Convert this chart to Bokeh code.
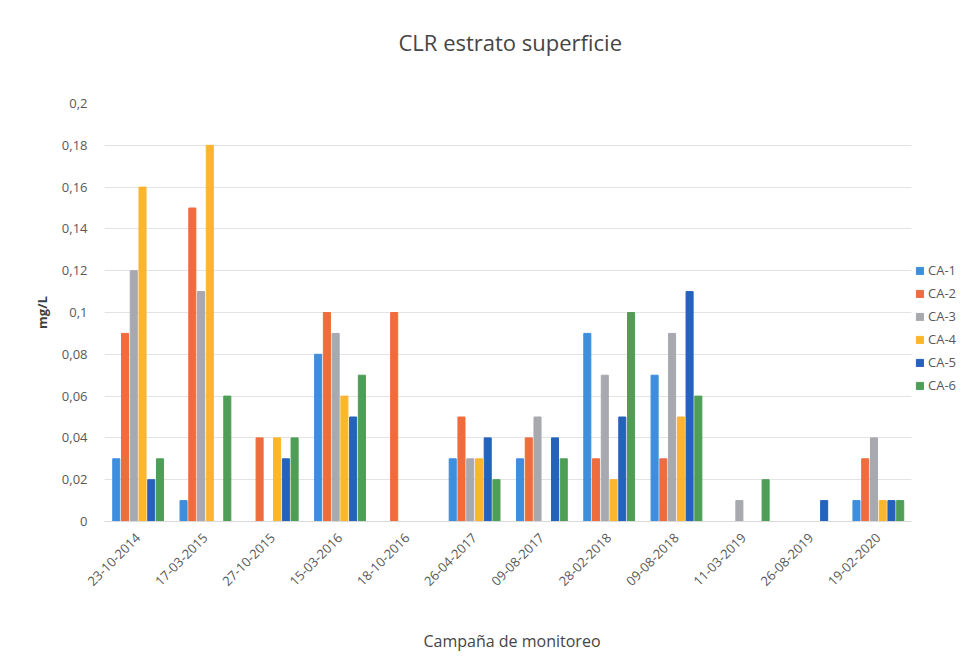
import math
from bokeh.plotting import figure
from bokeh.models import ColumnDataSource, FixedTicker, CustomJSTickFormatter, Legend, LegendItem, Range1d, Title
from bokeh.embed import file_html
from bokeh.resources import INLINE

dates = ["23-10-2014", "17-03-2015", "27-10-2015", "15-03-2016", "18-10-2016", "26-04-2017",
         "09-08-2017", "28-02-2018", "09-08-2018", "11-03-2019", "26-08-2019", "19-02-2020"]
series_names = ["CA-1", "CA-2", "CA-3", "CA-4", "CA-5", "CA-6"]
ca1 = [0.03, 0.01, None, 0.08, None, 0.03, 0.03, 0.09, 0.07, None, None, 0.01]
ca2 = [0.09, 0.15, 0.04, 0.10, 0.10, 0.05, 0.04, 0.03, 0.03, None, None, 0.03]
ca3 = [0.12, 0.11, None, 0.09, None, 0.03, 0.05, 0.07, 0.09, 0.01, None, 0.04]
ca4 = [0.16, 0.18, 0.04, 0.06, None, 0.03, None, 0.02, 0.05, None, None, 0.01]
ca5 = [0.02, None, 0.03, 0.05, None, 0.04, 0.04, 0.05, 0.11, None, 0.01, 0.01]
ca6 = [0.03, 0.06, 0.04, 0.07, None, 0.02, 0.03, 0.10, 0.06, 0.02, None, 0.01]
y_ticks = [0, 0.02, 0.04, 0.06, 0.08, 0.1, 0.12, 0.14, 0.16, 0.18, 0.2]

colors = ["#3E8EDE", "#EE6C3E", "#A7A9AF", "#FBB62E", "#2462BE", "#4E9E57"]
all_series = [ca1, ca2, ca3, ca4, ca5, ca6]

FONT = "Open Sans"
TXT = "#595959"
DARK = "#454545"

n = len(dates)
positions = list(range(n))
# extra room on the right of the category axis is reserved for the legend
x_lo, x_hi = -0.5, n - 0.5
legend_room = 0.84

p = figure(width=973, height=669, x_range=Range1d(x_lo, x_hi + legend_room), y_range=Range1d(0, 0.2),
           output_backend="svg", toolbar_location=None,
           min_border_left=104, min_border_right=5, min_border_top=103, min_border_bottom=148)
p.outline_line_color = None
p.background_fill_color = "white"

slot = 0.13
bw = 0.105
items = []
for i, (name, vals, col) in enumerate(zip(series_names, all_series, colors)):
    off = (i - 2.5) * slot
    xs = [pos + off for pos, v in zip(positions, vals) if v is not None]
    ys = [v for v in vals if v is not None]
    src = ColumnDataSource(dict(x=xs, top=ys))
    r = p.vbar(x="x", top="top", bottom=0, width=bw,
               source=src, fill_color=col, line_color=col)
    items.append(LegendItem(label=name, renderers=[r]))

legend = Legend(items=items, location=(811, 127), border_line_color=None,
                label_text_font=FONT, label_text_font_size="13px", label_text_color=TXT,
                glyph_width=9, glyph_height=9, label_height=14, spacing=5,
                padding=3, margin=0, label_standoff=4, background_fill_alpha=0)
p.add_layout(legend)

# trailing empty line lifts the visible title line inside its panel
p.title.text = "CLR estrato superficie\n"
p.title.align = "left"
p.title.offset = 294
p.title.text_font = FONT
p.title.text_font_size = "22px"
p.title.text_font_style = "normal"
p.title.text_color = DARK
p.title.standoff = 33

p.yaxis.ticker = FixedTicker(ticks=y_ticks)
p.yaxis.formatter = CustomJSTickFormatter(code="""
var s = tick.toFixed(2).replace(/0+$/, '').replace(/\\.$/, '');
return s.replace('.', ',');
""")
p.yaxis.axis_line_color = None
p.yaxis.major_tick_line_color = None
p.yaxis.minor_tick_line_color = None
p.yaxis.major_label_text_font = FONT
p.yaxis.major_label_text_font_size = "13px"
p.yaxis.major_label_text_color = TXT
p.yaxis.major_label_standoff = 11
p.yaxis.axis_label = "mg/L"
p.yaxis.axis_label_text_font = FONT
p.yaxis.axis_label_text_font_size = "13px"
p.yaxis.axis_label_text_font_style = "bold"
p.yaxis.axis_label_text_color = "#404040"
p.yaxis.axis_label_standoff = 8

p.xaxis.ticker = FixedTicker(ticks=positions)
p.xaxis.major_label_overrides = {pos: d for pos, d in zip(positions, dates)}
p.xaxis.bounds = (x_lo, x_hi)
p.xaxis.axis_line_color = "#D9D9D9"
p.xaxis.major_tick_line_color = None
p.xaxis.minor_tick_line_color = None
p.xaxis.major_label_orientation = math.pi / 4
p.xaxis.major_label_text_font = FONT
p.xaxis.major_label_text_font_size = "13px"
p.xaxis.major_label_text_color = TXT
p.xaxis.major_label_standoff = 8

# leading empty line lowers the visible axis title inside its panel
xtitle = Title(text="\nCampaña de monitoreo", align="left", offset=319, standoff=26,
               text_font=FONT, text_font_size="16px", text_font_style="normal", text_color=DARK)
p.add_layout(xtitle, "below")

p.xgrid.grid_line_color = None
p.ygrid.grid_line_color = "#E3E3E3"
p.ygrid.grid_line_width = 1
p.ygrid.cross_bounds = (x_lo, x_hi)

open("out.html", "w").write(file_html(p, INLINE))
